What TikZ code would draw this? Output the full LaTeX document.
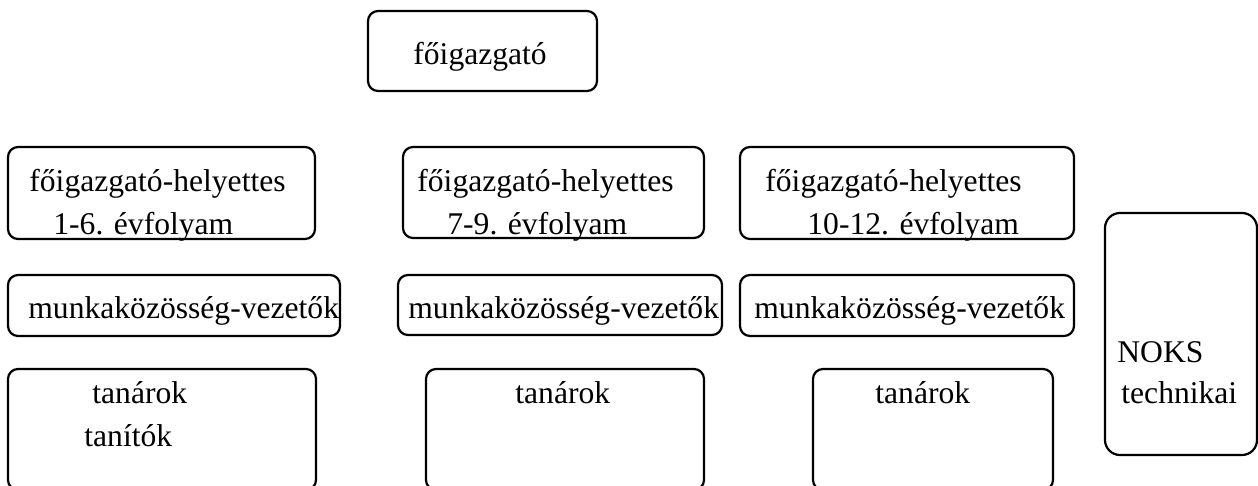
\documentclass[tikz,border=0pt]{standalone}
\usepackage{fontspec}
\setmainfont{Liberation Serif}

\def\txtsize{\fontsize{15.8pt}{18pt}\selectfont}

\tikzset{
  box/.style={draw, line width=1.1pt, rounded corners=5pt, inner sep=0pt},
  lbl/.style={anchor=base west, inner sep=0pt, font=\txtsize}
}

\begin{document}
\begin{tikzpicture}[x=0.5pt, y=-0.5pt]
      \useasboundingbox (0,0) rectangle (1258,486);
      \node[box, minimum width=114.5pt, minimum height=40pt] (fo) at (482.5,51) {};
      \node[box, minimum width=153.5pt, minimum height=46pt] (hely1) at (161.5,193) {};
      \node[box, minimum width=150.5pt, minimum height=45.5pt] (hely2) at (553.5,192.5) {};
      \node[box, minimum width=167pt, minimum height=46pt] (hely3) at (907,193) {};
      \node[box, minimum width=166pt, minimum height=30.5pt] (mkv1) at (174,305.5) {};
      \node[box, minimum width=162pt, minimum height=30pt] (mkv2) at (560,305) {};
      \node[box, minimum width=167pt, minimum height=30.5pt] (mkv3) at (907,305.5) {};
      \node[box, minimum width=154pt, minimum height=60.5pt] (tan1) at (162,429.5) {};
      \node[box, minimum width=139pt, minimum height=60.5pt] (tan2) at (565,429.5) {};
      \node[box, minimum width=120pt, minimum height=60.5pt] (tan3) at (933,429.5) {};
      \node[box, rounded corners=7.5pt, minimum width=76pt, minimum height=121pt] (noks) at (1181,334) {};
      \node[lbl] (fo-t) at (413,65) {főigazgató};
      \node[lbl] (hely1-t) at (29,192) {főigazgató-helyettes};
      \node[lbl] (hely1-e) at (53,235) {1-6. évfolyam};
      \node[lbl] (hely2-t) at (417,192) {főigazgató-helyettes};
      \node[lbl] (hely2-e) at (447,235) {7-9. évfolyam};
      \node[lbl] (hely3-t) at (765,192) {főigazgató-helyettes};
      \node[lbl] (hely3-e) at (807,235) {10-12. évfolyam};
      \node[lbl] (mkv1-t) at (28,318) {munkaközösség-vezetők};
      \node[lbl] (mkv2-t) at (408,318) {munkaközösség-vezetők};
      \node[lbl] (mkv3-t) at (754,318) {munkaközösség-vezetők};
      \node[lbl] (tan1-t) at (92,403) {tanárok};
      \node[lbl] (tan1-s) at (84,446) {tanítók};
      \node[lbl] (tan2-t) at (515,403) {tanárok};
      \node[lbl] (tan3-t) at (875,403) {tanárok};
      \node[lbl] (noks-t) at (1117,362) {NOKS};
      \node[lbl] (noks-s) at (1121,403) {technikai};
    \end{tikzpicture}
\end{document}
